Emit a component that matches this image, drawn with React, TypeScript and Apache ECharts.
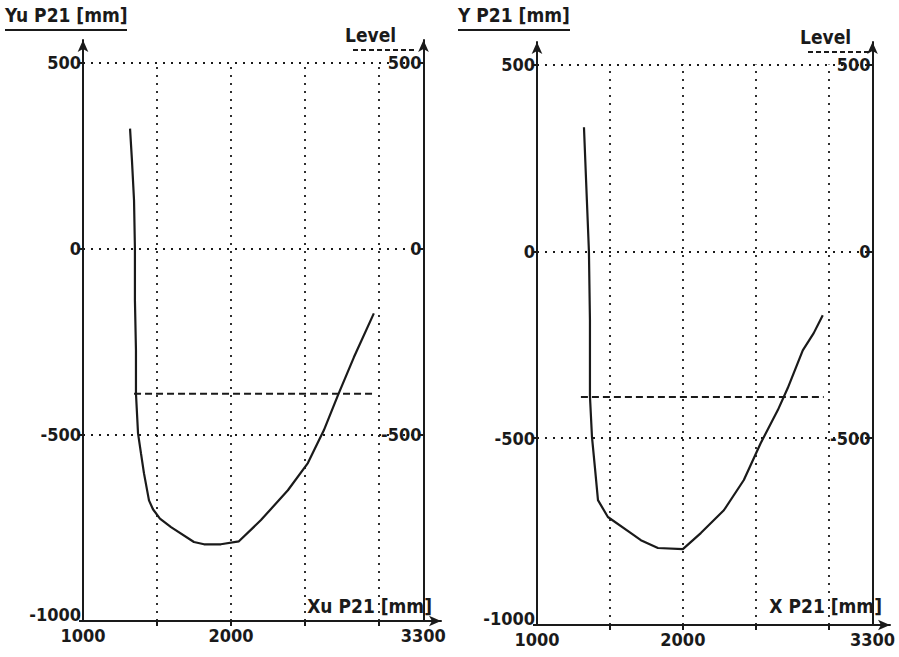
import React, { useEffect, useRef } from "react";
import * as echarts from "echarts";

// Left panel (Xu/Yu P21) curve
const leftXu = [1318, 1331, 1345, 1351, 1351, 1358, 1358, 1372, 1392, 1412, 1446, 1473, 1520, 1595, 1750, 1818, 1932, 2054, 2203, 2385, 2520, 2628, 2723, 2831, 2966];
const leftYu = [322, 236, 129, 0, -139, -273, -389, -496, -550, -603, -676, -700, -725, -748, -788, -794, -794, -786, -729, -649, -576, -488, -394, -292, -174];
// Right panel (X/Y P21) curve
const rightX = [1322, 1342, 1356, 1363, 1363, 1377, 1397, 1418, 1486, 1644, 1712, 1829, 2000, 2123, 2281, 2418, 2534, 2651, 2719, 2822, 2897, 2959];
const rightY = [332, 136, 0, -184, -388, -497, -578, -666, -711, -754, -773, -794, -797, -754, -693, -612, -513, -425, -366, -265, -219, -171];
// Level lines
const leftLevelX = [1345, 2960];
const rightLevelX = [1301, 2966];
const levelY = -390;

// Axis ticks/labels
const xLabelValues = [1000, 2000, 3300];
const xTickValues = [1500, 2000, 2500, 3000];
const yLeftLabels = [-1000, -500, 0, 500];
const yRightLabels = [-500, 0, 500];
const hGrid = [-500, 0, 500];
const vGrid = [1500, 2000, 2500, 3000];
const X_MIN = 1000;
const X_END = 3300;
const X_ARROW = 3420;
const Y_MIN = -1000;
const Y_TOP = 500;
const Y_ARROW = 560;

const FONT = "'DejaVu Sans Condensed', 'DejaVu Sans', sans-serif";
const INK = "#1a1a1a";

export default function App() {
  const ref = useRef<HTMLDivElement>(null);
  useEffect(() => {
    document.body.style.margin = "0";
    const chart = echarts.init(ref.current!, null, { renderer: "svg" });
    const labelStyle = { fontFamily: FONT, fontWeight: "bold" as const, fontSize: 18, color: INK };
    const axisLine = { show: true, onZero: false, symbol: ["none", "arrow"], symbolSize: [8, 12], lineStyle: { color: INK, width: 2 } };

    const mkX = (gi: number) => ({
      type: "value", gridIndex: gi, min: X_MIN, max: X_ARROW, interval: 500,
      axisLine,
      axisTick: { show: true, customValues: xTickValues, length: 5, lineStyle: { color: INK, width: 2 } },
      axisLabel: { ...labelStyle, customValues: xLabelValues, margin: 5, formatter: (v: number) => (xLabelValues.includes(v) ? String(v) : "") },
      splitLine: { show: false },
    });
    const mkYL = (gi: number) => ({
      type: "value", gridIndex: gi, min: Y_MIN, max: Y_ARROW, interval: 500, position: "left",
      axisLine,
      axisTick: { show: true, customValues: yLeftLabels, length: 4, lineStyle: { color: INK, width: 2 } },
      axisLabel: {
        ...labelStyle, customValues: yLeftLabels, margin: 2,
        formatter: (v: number) => (v === Y_MIN ? "{lo|" + v + "}" : yLeftLabels.includes(v) ? String(v) : ""),
        rich: { lo: { ...labelStyle, padding: [0, 0, 14, 0] } },
      },
      splitLine: { show: false },
    });
    const mkYR = (gi: number, off: number) => ({
      type: "value", gridIndex: gi, min: Y_MIN, max: Y_ARROW, interval: 500, position: "right", offset: off,
      axisLine,
      axisTick: { show: true, inside: true, customValues: yRightLabels, length: 4, lineStyle: { color: INK, width: 2 } },
      axisLabel: { ...labelStyle, inside: true, customValues: yRightLabels, margin: 2, formatter: (v: number) => (yRightLabels.includes(v) ? String(v) : "") },
      splitLine: { show: false },
    });

    const gridMarks = () => ({
      silent: true,
      symbol: "none",
      label: { show: false },
      lineStyle: { color: INK, type: [2, 6], width: 1.8 },
      data: [
        ...hGrid.map((y) => [{ coord: [X_MIN, y] }, { coord: [X_END, y] }]),
        ...vGrid.map((x) => [{ coord: [x, Y_MIN] }, { coord: [x, Y_TOP] }]),
      ],
    });

    const curve = (xs: number[], ys: number[], xi: number, yi: number) => ({
      type: "line", xAxisIndex: xi, yAxisIndex: yi, showSymbol: false, smooth: false,
      lineStyle: { color: INK, width: 2.2 },
      data: xs.map((x, i) => [x, ys[i]]),
      markLine: gridMarks(),
    });
    const level = (xs: number[], xi: number, yi: number) => ({
      type: "line", xAxisIndex: xi, yAxisIndex: yi, showSymbol: false,
      lineStyle: { color: INK, width: 2, type: [7, 4] },
      data: xs.map((x) => [x, levelY]),
    });

    const title = (text: string, x: number, w: number) => ({
      type: "group",
      children: [
        { type: "text", x, y: 5, style: { text, fontFamily: FONT, fontWeight: "bold", fontSize: 19, fill: INK } },
        { type: "line", shape: { x1: x, y1: 30, x2: x + w, y2: 30 }, style: { stroke: INK, lineWidth: 2 } },
      ],
    });
    const levelLegend = (x: number, y: number, w: number) => ({
      type: "group",
      children: [
        { type: "text", x, y: y - 25, style: { text: "Level", fontFamily: FONT, fontWeight: "bold", fontSize: 19, fill: INK } },
        { type: "line", shape: { x1: x + 8, y1: y, x2: x + 8 + w, y2: y }, style: { stroke: INK, lineWidth: 2, lineDash: [5, 3] } },
      ],
    });
    const xName = (text: string, right: number) => ({
      type: "text", x: right, y: 596, style: { text, fontFamily: FONT, fontWeight: "bold", fontSize: 19, fill: INK, align: "right", backgroundColor: "#fff" },
    });

    chart.setOption({
      animation: false,
      backgroundColor: "#fff",
      grid: [
        { left: 83, width: 358, top: 40, bottom: 36 },
        { left: 537, width: 353, top: 42, bottom: 32 },
      ],
      xAxis: [mkX(0), mkX(1)],
      yAxis: [mkYL(0), mkYR(0, -17.5), mkYL(1), mkYR(1, -17.5)],
      series: [
        curve(leftXu, leftYu, 0, 0),
        level(leftLevelX, 0, 0),
        curve(rightX, rightY, 1, 2),
        level(rightLevelX, 1, 2),
      ],
      graphic: [
        title("Yu P21 [mm]", 5, 122),
        title("Y P21 [mm]", 458, 112),
        levelLegend(345, 50, 64),
        levelLegend(800, 52, 64),
        xName("Xu P21 [mm]", 432),
        xName("X P21 [mm]", 882),
      ],
    });
    return () => chart.dispose();
  }, []);
  return <div ref={ref} style={{ width: 899, height: 657 }} />;
}
